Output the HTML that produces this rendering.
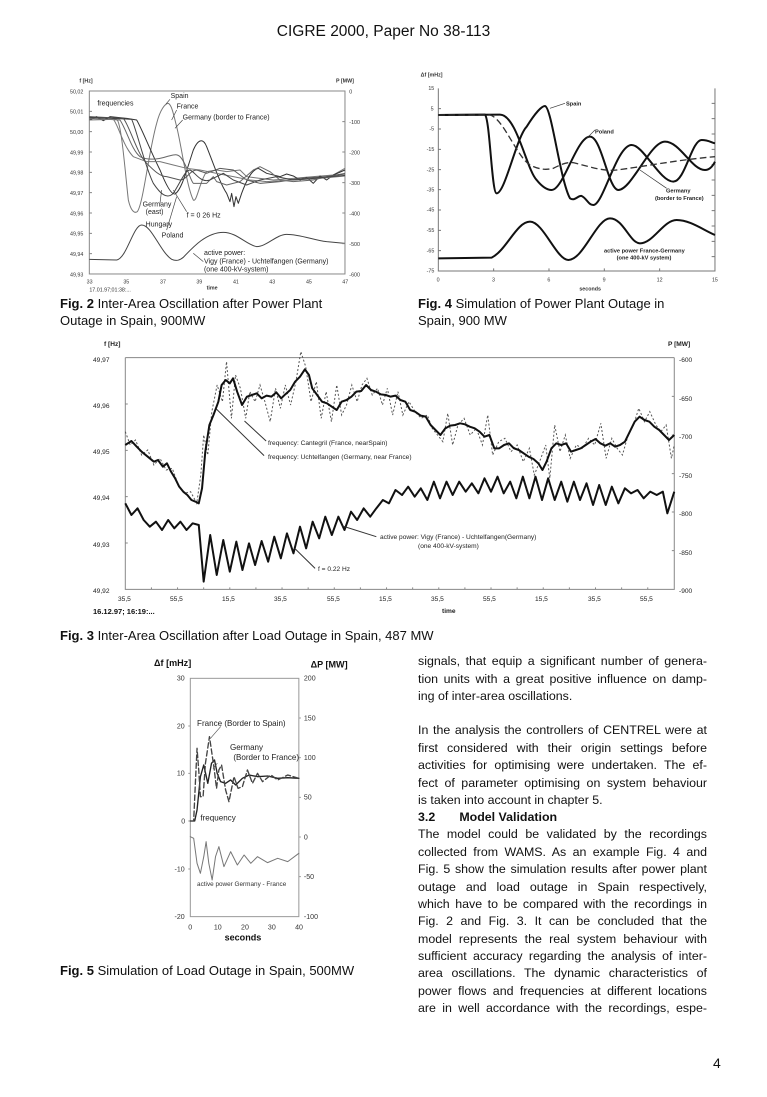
<!DOCTYPE html>
<html><head><meta charset="utf-8"><style>
body{margin:0;background:#fff;}
#p{position:relative;width:767px;height:1097px;overflow:hidden;font-family:"Liberation Sans",sans-serif;color:#111;}
.t{position:absolute;white-space:nowrap;}
.cap{position:absolute;font-size:13px;white-space:nowrap;}
.l{position:absolute;left:418px;width:289px;font-size:12.4px;text-align:justify;text-align-last:justify;white-space:nowrap;}
.e{text-align-last:left;}
svg text{font-family:"Liberation Sans",sans-serif;}
</style></head><body><div id="p">
<div class="t" style="left:0;width:767px;text-align:center;top:23px;font-size:15.5px;">CIGRE 2000, Paper No 38-113</div>

<svg width="767" height="1097" style="position:absolute;left:0;top:0" fill="none">
<!-- FIG 2 -->
<g transform="translate(60,70) scale(0.3333)">
<rect x="88" y="63" width="767" height="549" stroke="#888" stroke-width="3"/>
<g fill="#333" font-size="16">
<text x="30" y="70">50,02</text><text x="30" y="131">50,01</text><text x="30" y="192">50,00</text><text x="30" y="253">49,99</text><text x="30" y="314">49,98</text><text x="30" y="375">49,97</text><text x="30" y="436">49,96</text><text x="30" y="497">49,95</text><text x="30" y="558">49,94</text><text x="30" y="619">49,93</text>
<text x="868" y="70">0</text><text x="868" y="162">-100</text><text x="868" y="253">-200</text><text x="868" y="345">-300</text><text x="868" y="436">-400</text><text x="868" y="528">-500</text><text x="868" y="619">-600</text>
<text x="80" y="640">33</text><text x="190" y="640">35</text><text x="300" y="640">37</text><text x="409" y="640">39</text><text x="519" y="640">41</text><text x="628" y="640">43</text><text x="738" y="640">45</text><text x="847" y="640">47</text>
<text x="88" y="665">17.01.97;01:38:...</text><text x="440" y="658" font-weight="bold">time</text>
<text x="58" y="38" font-weight="bold">f [Hz]</text><text x="828" y="38" font-weight="bold">P [MW]</text>
</g>
<g fill="#222" font-size="21">
<text x="112" y="107">frequencies</text><text x="332" y="84">Spain</text><text x="350" y="116">France</text><text x="368" y="148">Germany (border to France)</text>
<text x="248" y="410">Germany</text><text x="257" y="432">(east)</text><text x="380" y="442">f =  0 26 Hz</text><text x="257" y="470">Hungary</text><text x="305" y="503">Poland</text>
<text x="432" y="555">active power:</text><text x="432" y="580">Vigy (France) - Uchtelfangen (Germany)</text><text x="432" y="604">(one 400-kV-system)</text>
</g>
<g stroke-width="3" stroke-linejoin="round">
<path stroke="#777" d="M88,145 L110,140 L130,150 L150,142 L172,150 C185,170 195,300 205,390 C212,420 222,432 232,425 C250,400 265,250 290,160 C300,120 315,100 325,100 C335,105 340,130 350,170 C365,230 380,350 400,390 C410,400 420,330 440,305 L470,300 L500,305 L540,300 L560,320 L600,325 L640,330 L700,325 L760,320 L820,315 L855,295"/>
<path stroke="#333" stroke-width="3" d="M88,150 L110,140 L130,152 L150,140 L200,145 L230,150 C245,175 270,240 300,300 C320,350 335,375 345,372 C365,360 380,300 400,240 C415,205 430,205 440,230 C460,280 480,340 500,370 L510,395 L515,370 L522,410 L528,380 L535,400 L545,370 C560,330 575,300 595,295 L620,310 L660,320 L680,312 L700,318 L720,330 L740,322 L760,340 L780,318 L800,330 L820,315 L855,300"/>
<path stroke="#666" d="M88,145 L180,150 C200,180 215,240 240,260 C260,270 290,270 320,260 C340,255 350,250 360,260 C380,280 390,330 400,340 L440,340 L460,320 L470,335 L500,345 L540,335 L580,300 L600,290 L630,305 L660,330 L700,335 L760,330 L800,320 L855,310"/>
<path stroke="#555" d="M88,140 L190,145 C210,170 230,250 260,280 C280,300 300,320 320,320 L360,330 C380,330 390,300 410,300 L440,310 L480,295 L520,300 L560,330 L600,340 L660,335 L720,325 L800,320 L855,312"/>
<path stroke="#777" d="M88,150 L160,148 C175,165 190,230 220,260 L260,275 L300,275 L340,285 L380,295 L420,300 L470,310 L520,320 L570,330 L620,335 L700,330 L780,325 L855,318"/>
<path stroke="#444" d="M88,142 L215,148 C230,180 255,290 280,340 C300,370 320,390 340,370 C360,340 375,300 390,300 C405,305 420,340 450,330 L490,310 L520,330 L560,345 L600,330 L650,320 L700,330 L760,325 L855,316"/>
<path stroke="#444" d="M88,568 L170,570 C200,565 220,465 245,465 C275,465 300,545 335,568 C350,575 360,570 370,562 C400,530 440,487 490,487 C530,487 560,525 590,530 C620,530 650,493 680,493 C720,493 760,510 800,515 L855,520"/>
<path stroke="#444" stroke-width="2" d="M330,88 L318,102 M350,120 L335,150 M368,150 L345,175 M300,400 L305,360 M380,425 L340,360 M320,480 L350,380 M430,575 L400,550"/>
</g>
<g stroke="#888" stroke-width="3"><path d="M88,124h8M88,185h8M88,246h8M88,307h8M88,368h8M88,429h8M88,490h8M88,551h8M855,155h-8M855,246h-8M855,338h-8M855,429h-8M855,521h-8"/></g>
</g>

<!-- FIG 4 -->
<g transform="translate(410,70) scale(0.3333)">
<path stroke="#777" stroke-width="3" d="M85,55 V603 H915 V55"/>
<g stroke="#777" stroke-width="3"><path d="M85,116h8M85,177h8M85,238h8M85,299h8M85,359h8M85,420h8M85,481h8M85,542h8M251,603v-8M417,603v-8M583,603v-8M749,603v-8M915,100h-10M915,146h-10M915,192h-10M915,238h-10M915,284h-10M915,330h-10M915,376h-10M915,422h-10M915,468h-10M915,514h-10M915,560h-10"/></g>
<g fill="#333" font-size="16">
<text x="55" y="60">15</text><text x="62" y="121">5</text><text x="58" y="182">-5</text><text x="50" y="243">-15</text><text x="50" y="304">-25</text><text x="50" y="364">-35</text><text x="50" y="425">-45</text><text x="50" y="486">-55</text><text x="50" y="547">-65</text><text x="50" y="608">-75</text>
<text x="80" y="635">0</text><text x="246" y="635">3</text><text x="412" y="635">6</text><text x="578" y="635">9</text><text x="740" y="635">12</text><text x="906" y="635">15</text>
<text x="32" y="20" font-weight="bold">Δf [mHz]</text><text x="508" y="662" font-weight="bold">seconds</text>
</g>
<g fill="#222" font-size="17" font-weight="bold">
<text x="468" y="107">Spain</text><text x="555" y="190">Poland</text><text x="768" y="368">Germany</text><text x="735" y="390">(border to France)</text>
<text x="582" y="548">active power France-Germany</text><text x="620" y="569">(one 400-kV system)</text>
</g>
<g stroke="#111" stroke-width="6" stroke-linejoin="round">
<path d="M85,135 L225,134 C240,150 245,370 260,370 C285,370 320,200 350,170 C375,130 395,108 405,108 C425,112 450,330 480,385 C495,395 505,375 515,378 C530,385 535,405 550,405 C580,405 620,225 665,225 C700,225 750,335 790,335 C825,335 845,210 875,210 C895,210 905,218 915,220"/>
<path d="M85,135 L270,134 C320,134 350,300 380,330 C400,355 415,360 425,360 C460,360 500,200 540,200 C575,200 595,360 625,360 C665,360 720,215 765,215 C810,215 845,300 885,300 C900,300 910,285 915,275"/>
<path d="M85,565 L245,563 C290,540 320,455 360,455 C400,455 440,570 475,570 C520,570 560,445 600,445 C640,445 660,520 690,520 C730,520 760,450 800,450 C840,450 880,480 915,495"/>
</g>
<path stroke="#333" stroke-width="4" stroke-dasharray="20,10" d="M85,135 L240,135 C280,145 320,260 360,285 C390,300 410,300 430,295 C450,285 470,275 490,278 C540,290 580,305 620,300 C700,290 800,270 915,260"/>
<path stroke="#333" stroke-width="2" d="M465,100 L420,115 M555,180 L530,205 M770,355 L690,300"/>
</g>

<!-- FIG 3 -->
<g transform="translate(60,335) scale(0.40816,0.33333)">
<path vector-effect="non-scaling-stroke" stroke="#888" stroke-width="1" d="M160,68 H1505 M160,68 V763 H1505 V68"/>
<path vector-effect="non-scaling-stroke" stroke="#888" stroke-width="1" d="M160,207h6M160,346h6M160,485h6M160,624h6M1505,184h-6M1505,300h-6M1505,416h-6M1505,531h-6M1505,647h-6M224,763v-6M288,763v-6M352,763v-6M416,763v-6M480,763v-6M544,763v-6M608,763v-6M672,763v-6M736,763v-6M800,763v-6M864,763v-6M928,763v-6M992,763v-6M1056,763v-6M1120,763v-6M1184,763v-6M1248,763v-6M1312,763v-6M1376,763v-6M1440,763v-6"/>
<polyline vector-effect="non-scaling-stroke" stroke="#555" stroke-width="1" stroke-dasharray="2,2" points="160,290 172,330 185,315 200,360 215,345 230,390 245,370 260,405 275,400 290,450 305,475 320,470 335,505 345,420 352,300 362,360 372,230 385,150 398,200 408,80 420,250 430,120 442,160 455,250 465,170 478,200 490,150 502,200 515,260 528,160 540,220 552,150 565,210 578,140 590,50 602,95 615,200 628,140 640,250 652,170 665,260 678,150 690,240 702,210 715,150 728,200 740,150 752,130 765,180 778,160 790,210 802,160 815,240 828,170 840,240 855,200 870,230 885,250 900,240 912,280 925,300 938,320 950,235 962,330 975,270 990,250 1005,300 1020,280 1035,330 1048,240 1060,360 1075,320 1090,310 1105,350 1120,330 1135,380 1150,340 1162,420 1175,380 1190,330 1200,430 1212,270 1225,350 1238,300 1250,370 1265,330 1280,340 1295,310 1310,330 1325,265 1338,370 1352,310 1365,340 1378,360 1392,300 1405,270 1418,220 1432,260 1445,230 1460,270 1472,290 1485,270 1498,370 1505,330"/>
<polyline vector-effect="non-scaling-stroke" stroke="#111" stroke-width="2" stroke-linejoin="round" points="160,330 175,318 188,335 200,350 215,365 230,380 240,375 252,395 262,385 272,410 282,430 292,455 302,470 312,480 322,495 332,500 340,505 348,460 356,350 366,270 376,240 388,200 396,150 406,135 416,145 424,130 434,170 446,210 458,185 470,180 482,175 494,190 506,182 518,185 530,172 542,190 552,178 564,165 576,140 588,125 600,103 610,120 618,160 630,180 642,200 654,205 666,215 678,225 690,200 702,195 714,185 726,170 738,168 750,150 762,165 774,170 786,178 798,180 810,185 822,182 834,195 846,200 858,225 870,230 884,242 896,245 908,270 920,285 932,300 944,280 956,272 968,270 980,265 992,268 1004,275 1016,280 1028,290 1040,305 1052,300 1064,340 1076,340 1088,330 1100,325 1112,340 1124,345 1136,355 1148,365 1160,372 1172,385 1182,405 1192,380 1204,340 1216,325 1228,330 1240,325 1252,350 1264,345 1276,340 1288,330 1300,320 1312,312 1324,325 1336,332 1348,325 1360,335 1372,330 1384,320 1396,290 1408,260 1420,245 1432,255 1444,260 1456,275 1468,285 1480,300 1492,315 1505,300"/>
<polyline vector-effect="non-scaling-stroke" stroke="#111" stroke-width="2" stroke-linejoin="round" points="160,505 175,540 190,520 205,555 220,575 235,560 250,585 265,555 280,580 295,560 310,585 325,565 340,570 352,740 368,600 384,720 400,615 416,710 432,620 447,705 463,625 478,690 494,618 510,680 525,605 541,670 556,595 572,655 588,575 603,640 619,560 635,610 650,545 666,600 682,545 697,585 713,530 728,555 744,520 760,545 775,520 791,495 806,505 822,465 838,480 853,455 869,485 884,460 900,495 916,440 931,490 947,440 962,480 978,440 994,470 1009,445 1025,475 1040,430 1056,470 1072,425 1087,475 1103,440 1118,490 1134,425 1150,490 1165,425 1181,495 1196,430 1212,495 1228,440 1243,500 1259,440 1274,495 1290,445 1306,510 1321,450 1337,510 1352,455 1368,505 1384,460 1399,475 1415,465 1430,490 1446,470 1462,480 1477,470 1488,535 1505,470"/>
<path vector-effect="non-scaling-stroke" stroke="#333" stroke-width="1" d="M383,222 L500,362 M452,258 L505,318 M692,573 L775,605 M575,640 L625,700"/>
</g>
<g fill="#222" font-size="6.6">
<text x="93" y="362">49,97</text><text x="93" y="408">49,96</text><text x="93" y="454">49,95</text><text x="93" y="500">49,94</text><text x="93" y="547">49,93</text><text x="93" y="593">49,92</text>
<text x="679" y="362">-600</text><text x="679" y="401">-650</text><text x="679" y="439">-700</text><text x="679" y="478">-750</text><text x="679" y="516">-800</text><text x="679" y="555">-850</text><text x="679" y="593">-900</text>
<text x="118" y="601">35,5</text><text x="170" y="601">55,5</text><text x="222" y="601">15,5</text><text x="274" y="601">35,5</text><text x="327" y="601">55,5</text><text x="379" y="601">15,5</text><text x="431" y="601">35,5</text><text x="483" y="601">55,5</text><text x="535" y="601">15,5</text><text x="588" y="601">35,5</text><text x="640" y="601">55,5</text>
<text x="104" y="346" font-weight="bold">f [Hz]</text><text x="668" y="346" font-weight="bold">P [MW]</text>
<text x="442" y="613" font-weight="bold">time</text>
<text x="268" y="445">frequency: Cantegril (France, nearSpain)</text>
<text x="268" y="459">frequency: Uchtelfangen (Germany, near France)</text>
<text x="380" y="539">active power: Vigy (France) - Uchtelfangen(Germany)</text>
<text x="418" y="548">(one 400-kV-system)</text>
<text x="318" y="571">f  =  0.22 Hz</text>
</g>
<text x="93" y="614" font-size="7.5" font-weight="bold" fill="#111">16.12.97; 16:19:...</text>

<!-- FIG 5 -->
<g transform="translate(150,650) scale(0.336,0.3333)">
<rect x="120" y="85" width="323" height="715" stroke="#999" stroke-width="3"/>
<g stroke="#999" stroke-width="3"><path d="M120,228h-6M120,370h-6M120,513h-6M120,657h-6M443,204h6M443,323h6M443,442h6M443,561h6M443,680h6"/></g>
<g fill="#333" font-size="21">
<text x="80" y="92">30</text><text x="80" y="235">20</text><text x="80" y="377">10</text><text x="93" y="520">0</text><text x="73" y="664">-10</text><text x="73" y="807">-20</text>
<text x="458" y="92">200</text><text x="458" y="211">150</text><text x="458" y="330">100</text><text x="458" y="449">50</text><text x="458" y="568">0</text><text x="458" y="687">-50</text><text x="458" y="807">-100</text>
<text x="114" y="838">0</text><text x="190" y="838">10</text><text x="271" y="838">20</text><text x="351" y="838">30</text><text x="432" y="838">40</text>
</g>
<g fill="#111" font-size="27" font-weight="bold"><text x="12" y="48">Δf [mHz]</text><text x="478" y="52">ΔP [MW]</text><text x="222" y="872">seconds</text></g>
<g fill="#222" font-size="24"><text x="140" y="228">France (Border to Spain)</text><text x="238" y="300">Germany</text><text x="248" y="330">(Border to France)</text><text x="150" y="512">frequency</text></g>
<text x="140" y="708" fill="#333" font-size="19">active power Germany - France</text>
<g stroke-linejoin="round" stroke-linecap="round">
<polyline stroke="#222" stroke-width="4" points="120,513 133,513 140,480 150,380 160,345 172,400 183,340 192,330 200,370 210,395 225,400 240,390 255,405 275,385 295,375 320,380 350,378 380,385 410,383 443,385"/>
<polyline stroke="#444" stroke-width="4" stroke-dasharray="16,8" points="120,513 130,513 135,400 140,295 145,360 150,440 158,440 165,340 177,260 190,350 198,415 205,360 213,345 225,420 235,455 250,380 262,415 275,410 290,360 305,400 320,370 335,395 360,375 380,390 410,375 443,385"/>
<polyline stroke="#777" stroke-width="3" points="120,560 130,565 140,640 150,670 160,620 167,575 175,640 185,690 195,620 205,590 220,650 240,605 260,645 280,615 300,640 320,620 350,638 380,625 410,635 443,610"/>
<path stroke="#555" stroke-width="2" d="M210,230 L180,265 M200,340 L188,355"/>
</g>
</g>
</svg>

<div class="cap" style="left:60px;top:296px;"><b>Fig. 2</b> Inter-Area Oscillation after Power Plant</div>
<div class="cap" style="left:60px;top:313px;">Outage in Spain, 900MW</div>
<div class="cap" style="left:418px;top:296px;"><b>Fig. 4</b> Simulation of Power Plant Outage in</div>
<div class="cap" style="left:418px;top:313px;">Spain, 900 MW</div>
<div class="cap" style="left:60px;top:628px;"><b>Fig. 3</b> Inter-Area Oscillation after Load Outage in Spain, 487 MW</div>
<div class="cap" style="left:60px;top:963px;"><b>Fig. 5</b> Simulation of Load Outage in Spain, 500MW</div>

<div class="l" style="top:654px">signals, that equip a significant number of genera-</div>
<div class="l" style="top:672px">tion units with a great positive influence on damp-</div>
<div class="l e" style="top:689px">ing of inter-area oscillations.</div>
<div class="l" style="top:723px">In the analysis the controllers of CENTREL were at</div>
<div class="l" style="top:741px">first considered with their origin settings before</div>
<div class="l" style="top:758px">activities for optimising were undertaken. The ef-</div>
<div class="l" style="top:776px">fect of parameter optimising on system behaviour</div>
<div class="l e" style="top:793px">is taken into account in chapter 5.</div>
<div class="l e" style="top:810px;font-weight:bold">3.2&nbsp;&nbsp;&nbsp;&nbsp;&nbsp;&nbsp;&nbsp;Model Validation</div>
<div class="l" style="top:827px">The model could be validated by the recordings</div>
<div class="l" style="top:845px">collected from WAMS. As an example Fig. 4 and</div>
<div class="l" style="top:862px">Fig. 5 show the simulation results after power plant</div>
<div class="l" style="top:880px">outage and load outage in Spain respectively,</div>
<div class="l" style="top:897px">which have to be compared with the recordings in</div>
<div class="l" style="top:914px">Fig. 2 and Fig. 3. It can be concluded that the</div>
<div class="l" style="top:932px">model represents the real system behaviour with</div>
<div class="l" style="top:949px">sufficient accuracy regarding the analysis of inter-</div>
<div class="l" style="top:966px">area oscillations. The dynamic characteristics of</div>
<div class="l" style="top:984px">power flows and frequencies at different locations</div>
<div class="l" style="top:1001px">are in well accordance with the recordings, espe-</div>
<div class="t" style="left:713px;top:1055px;font-size:14px;">4</div>
</div></body></html>
